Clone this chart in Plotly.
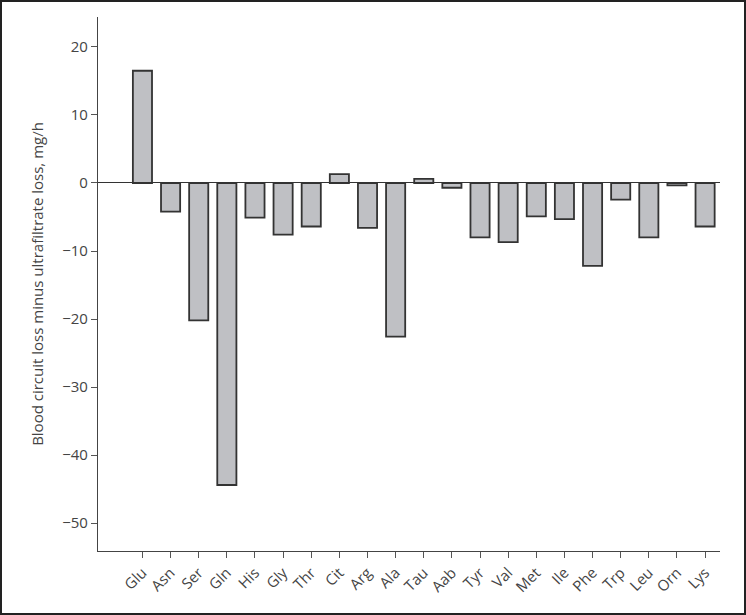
import plotly.graph_objects as go

amino_acids = ["Glu", "Asn", "Ser", "Gln", "His", "Gly", "Thr", "Cit", "Arg", "Ala",
               "Tau", "Aab", "Tyr", "Val", "Met", "Ile", "Phe", "Trp", "Leu", "Orn", "Lys"]
loss_diff = [16.5, -4.2, -20.2, -44.4, -5.1, -7.6, -6.4, 1.3, -6.6, -22.6,
             0.6, -0.7, -8.0, -8.7, -4.9, -5.3, -12.2, -2.45, -8.0, -0.35, -6.4]
y_ticks = [20, 10, 0, -10, -20, -30, -40, -50]

W, H = 746, 615
L, R, T, B = 98, 26, 17, 64
pw, ph = W - L - R, H - T - B

fig = go.Figure()
fig.add_trace(go.Bar(
    x=list(range(len(amino_acids))),
    y=loss_diff,
    width=0.68,
    marker=dict(color="#bfc0c4", line=dict(color="#333333", width=1.8)),
))

fig.update_layout(
    width=W, height=H,
    margin=dict(l=L, r=R, t=T, b=B),
    paper_bgcolor="white", plot_bgcolor="white",
    font=dict(family="Open Sans, Noto Sans, sans-serif", color="#444444", size=15),
    showlegend=False,
    xaxis=dict(
        range=[-1.58, 20.53],
        tickmode="array",
        tickvals=list(range(len(amino_acids))),
        ticktext=amino_acids,
        tickangle=-45,
        ticks="outside", ticklen=6, tickcolor="#555555",
        showline=True, linecolor="#444444", linewidth=1.2,
        showgrid=False, zeroline=False,
    ),
    yaxis=dict(
        range=[-54.1, 24.4],
        tickmode="array",
        tickvals=y_ticks,
        ticktext=[str(v).replace("-", "\u2212") for v in y_ticks],
        ticks="outside", ticklen=6, tickcolor="#555555",
        showline=True, linecolor="#444444", linewidth=1.2,
        showgrid=False,
        zeroline=True, zerolinecolor="#333333", zerolinewidth=1,
        title=dict(text="Blood circuit loss minus ultrafiltrate loss, mg/h",
                   font=dict(size=15), standoff=14),
    ),
)

# frame round the whole picture
fig.add_shape(
    type="rect", xref="paper", yref="paper",
    x0=(1 - L) / pw, x1=1 + (R - 1) / pw,
    y0=-(B - 1) / ph, y1=1 + (T - 1) / ph,
    line=dict(color="#222222", width=2),
)

fig.write_html("out.html", config={"displayModeBar": False},
               post_script="document.body.style.margin='0';")
